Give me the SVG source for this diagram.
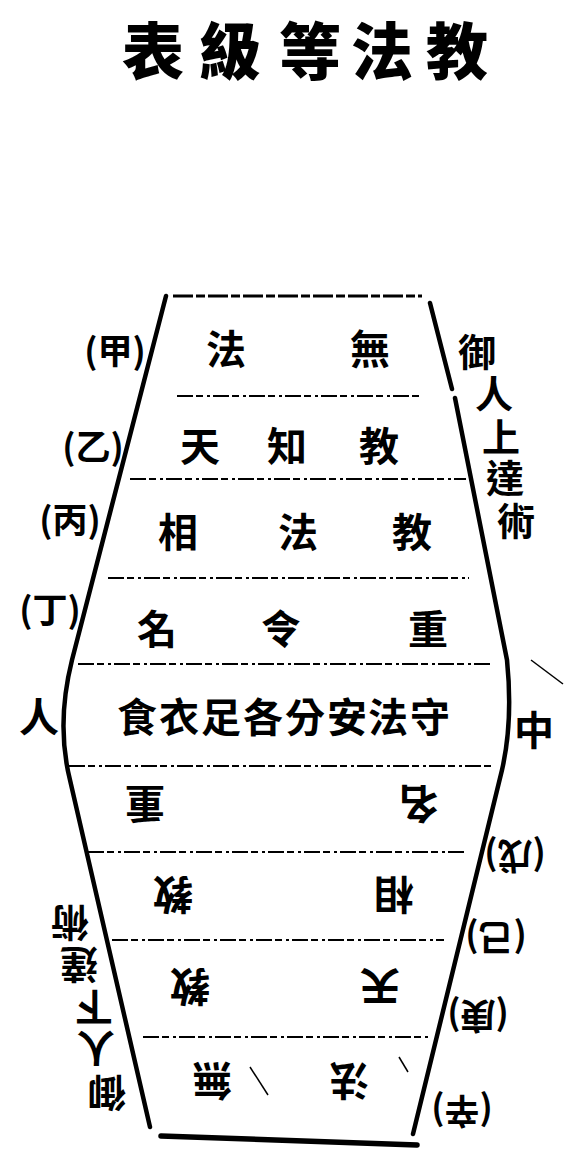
<svg xmlns="http://www.w3.org/2000/svg" width="566" height="1155" viewBox="0 0 566 1155">
<style>
.t{font-family:"Noto Sans CJK TC","Noto Sans CJK SC",sans-serif;font-weight:700;fill:#000;text-anchor:middle;dominant-baseline:central}
.title{font-size:62px;font-weight:900}
.cell{font-size:40px}
.lab{font-size:35px}
.side{font-size:38px}
.edge{fill:none;stroke:#000;stroke-width:4.5;stroke-linecap:round;stroke-linejoin:round}
.div{stroke:#000;stroke-width:2;stroke-dasharray:16 3 7 4 3 3}
.mark{stroke:#000;stroke-width:1.5;fill:none}
</style>
<rect width="566" height="1155" fill="#fff"/>
<g id="title"><text class="t title" x="153 230 310 382 457" y="48">表級等法教</text></g>
<g id="connectors">
<path class="edge" d="M166,296 L72,660 C62,700 60,740 70,780 L150,1127"/>
<path class="edge" d="M430,303 L452,389 M455,398 L507,660 C511,700 510,735 502,770 L413,1134"/>
<line x1="173" y1="296" x2="422" y2="296" stroke="#000" stroke-width="3" stroke-dasharray="20 3 9 3"/>
<line x1="161" y1="1136" x2="417" y2="1145" stroke="#000" stroke-width="5.5" stroke-linecap="round"/>
<line class="div" x1="177" y1="396" x2="422" y2="396"/>
<line class="div" x1="130" y1="479" x2="466" y2="479"/>
<line class="div" x1="108" y1="578" x2="469" y2="578"/>
<line class="div" x1="78" y1="664" x2="493" y2="664" stroke-dasharray="40 4 20 3"/>
<line class="div" x1="69" y1="766" x2="495" y2="766"/>
<line class="div" x1="88" y1="852" x2="466" y2="852"/>
<line class="div" x1="112" y1="940" x2="444" y2="940"/>
<line class="div" x1="143" y1="1037" x2="430" y2="1037"/>
<line class="mark" x1="250" y1="1067" x2="268" y2="1095"/>
<line class="mark" x1="531" y1="660" x2="563" y2="684"/>
<line class="mark" x1="399" y1="1057" x2="408" y2="1072"/>
</g>
<g id="row-jia"><text class="t lab" x="115" y="348">(甲)</text><text class="t cell" x="226 370" y="347">法無</text></g>
<g id="row-yi"><text class="t lab" x="93" y="444">(乙)</text><text class="t cell" x="200 287 379" y="444">天知教</text></g>
<g id="row-bing"><text class="t lab" x="70" y="517">(丙)</text><text class="t cell" x="178 298 412" y="530">相法教</text></g>
<g id="row-ding"><text class="t lab" x="50" y="607">(丁)</text><text class="t cell" x="157 281 428" y="627">名令重</text></g>
<g id="row-middle"><text class="t cell" x="39" y="715">人</text><text class="t cell" x="137 179 221 263 305 347 388 430" y="715">食衣足各分安法守</text><text class="t cell" x="534" y="728">中</text></g>
<g id="side-upper"><text class="t side" x="477 494 501 505 516" y="349 391 434 475 518">御人上達術</text></g>
<g id="lower-half" transform="rotate(180 283 577.5)">
<g id="row-wu"><text class="t lab" x="51" y="297">(戊)</text><text class="t cell" x="148 421" y="349">名重</text></g>
<g id="row-ji"><text class="t lab" x="70" y="215">(己)</text><text class="t cell" x="172 393" y="258">相教</text></g>
<g id="row-geng"><text class="t lab" x="88" y="137">(庚)</text><text class="t cell" x="186 376" y="166">天教</text></g>
<g id="row-xin"><text class="t lab" x="104" y="42">(辛)</text><text class="t cell" x="217 354" y="72">法無</text></g>
<g id="side-lower"><text class="t side" x="459 470 472 487 496" y="60 105 145 188 230">御人下達術</text></g>
</g>
</svg>
